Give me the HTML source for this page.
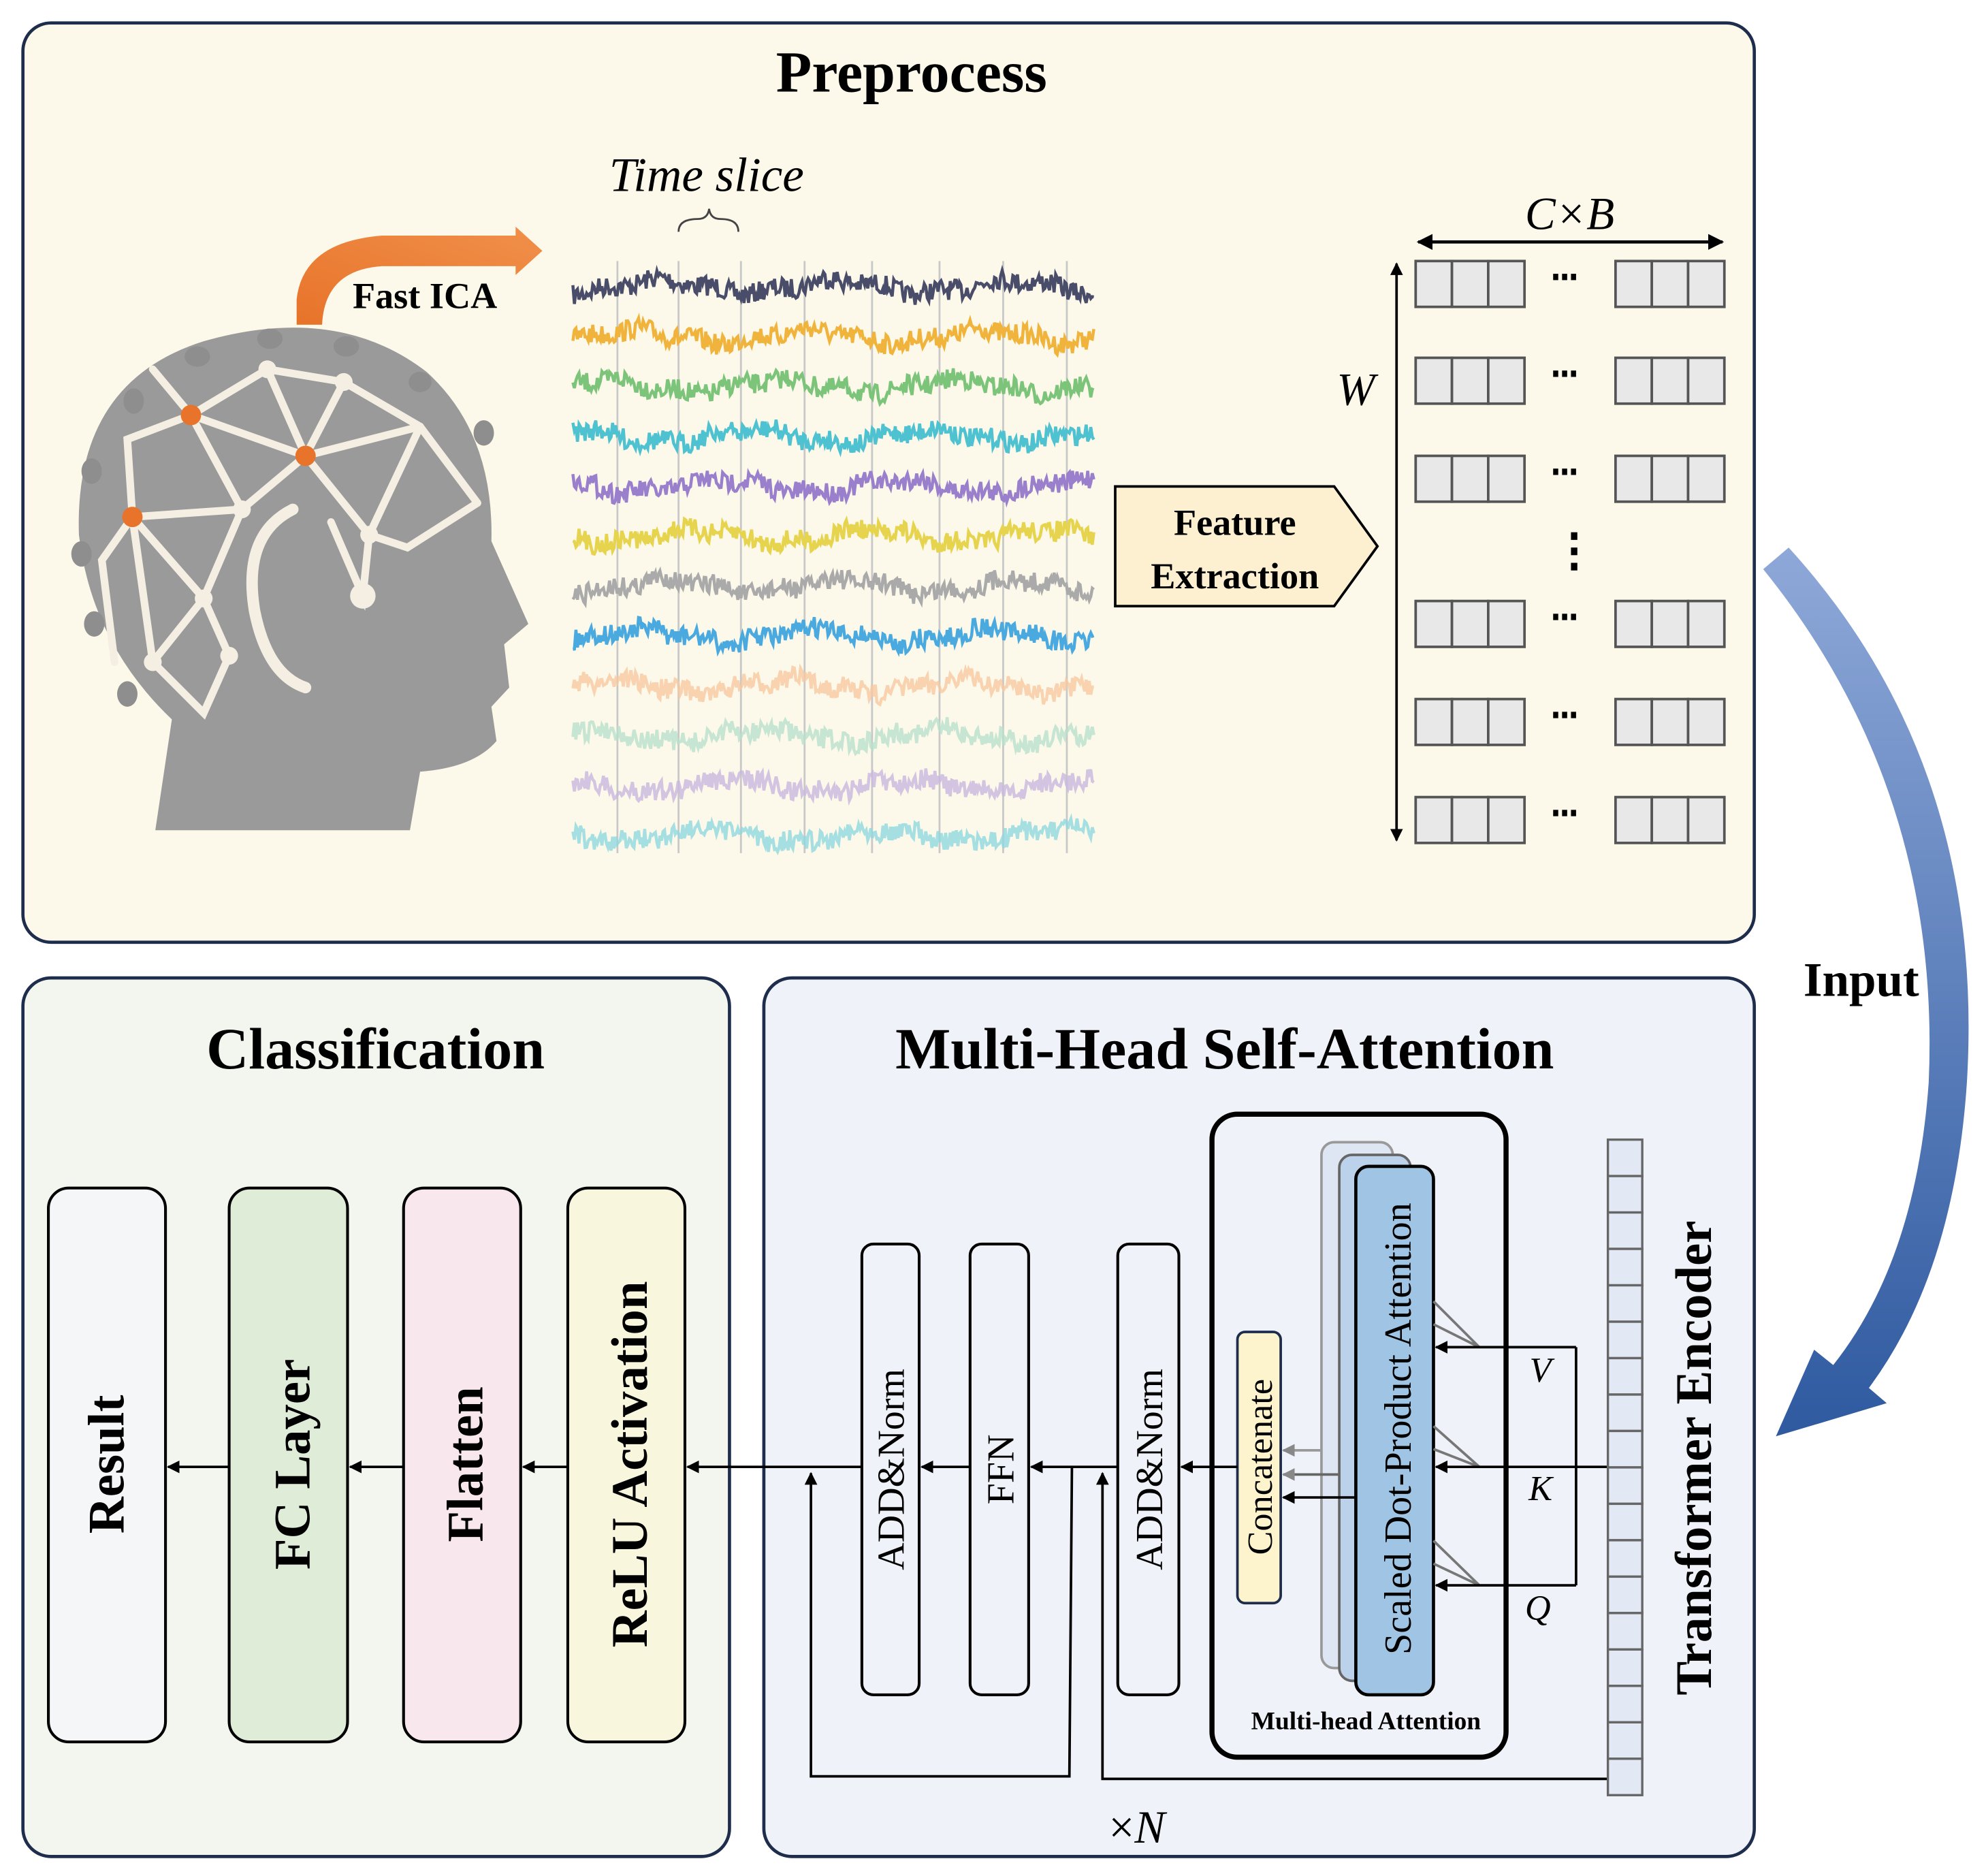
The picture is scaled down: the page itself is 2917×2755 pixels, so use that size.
<!DOCTYPE html>
<html><head><meta charset="utf-8"><style>
html,body{margin:0;padding:0;background:#fff}
svg{display:block}
text{font-family:"Liberation Serif",serif}
.b{font-weight:bold}
</style></head><body>
<svg id="s" width="2917" height="2755" viewBox="0 0 1560 1473.3" preserveAspectRatio="none" xmlns="http://www.w3.org/2000/svg">
<defs>
<marker id="ah" viewBox="0 0 10 10" refX="9" refY="5" markerWidth="5" markerHeight="5" orient="auto-start-reverse"><path d="M0,0 L10,5 L0,10 Z" fill="#000"/></marker>
<marker id="ahg" viewBox="0 0 10 10" refX="9" refY="5" markerWidth="5" markerHeight="5" orient="auto"><path d="M0,0 L10,5 L0,10 Z" fill="#888"/></marker>
<linearGradient id="bg" x1="0" y1="0" x2="0" y2="1"><stop offset="0" stop-color="#8ea8d8"/><stop offset="1" stop-color="#2f5aa0"/></linearGradient>
<linearGradient id="og" x1="0" y1="1" x2="1" y2="0"><stop offset="0" stop-color="#e8732a"/><stop offset="1" stop-color="#f0904a"/></linearGradient>
</defs>
<rect x="18" y="18" width="1360" height="722" rx="22" fill="#fdf9ea" stroke="#1f2d4d" stroke-width="2.5"/>
<rect x="18" y="768" width="555" height="690" rx="22" fill="#f3f6ee" stroke="#1f2d4d" stroke-width="2.5"/>
<rect x="600" y="768" width="778" height="690" rx="22" fill="#eff2f8" stroke="#1f2d4d" stroke-width="2.5"/>
<text x="716" y="72" font-size="46" class="b" text-anchor="middle">Preprocess</text>
<text x="295" y="839" font-size="46" class="b" text-anchor="middle">Classification</text>
<text x="962" y="839" font-size="46" class="b" text-anchor="middle">Multi-Head Self-Attention</text>

<path d="M122,652 L135,565 Q72,505 62,420 Q58,300 160,268 Q265,238 335,292 Q388,340 386,425 L415,490 L396,506 L400,540 L386,555 L390,582 Q372,603 330,606 L322,652 Z" fill="#9a9a9a"/>
<g stroke="#f4efe2" stroke-width="6" fill="none" stroke-linecap="round">
<path d="M90,520 L80,440 L104,406 L100,345 L150,326 L210,290 L270,300 L330,335 L375,395"/>
<path d="M150,326 L240,358 L330,335 M240,358 L270,300 M240,358 L210,290 M150,326 L190,400 L240,358 L290,420 L330,335 M190,400 L104,406 M190,400 L160,470 L104,406 M160,470 L120,520 L160,560 L180,515 L160,470 M290,420 L320,430 L375,395 M290,420 L285,468 L260,410 M104,406 L120,520 M150,326 L120,290"/>
<path d="M230,400 Q190,420 200,480 Q210,530 240,540" stroke-width="9"/>
</g>
<g fill="#f4efe2"><circle cx="240" cy="358" r="7"/><circle cx="190" cy="400" r="7"/><circle cx="290" cy="420" r="7"/><circle cx="160" cy="470" r="7"/><circle cx="120" cy="520" r="7"/><circle cx="210" cy="290" r="7"/><circle cx="270" cy="300" r="7"/><circle cx="285" cy="468" r="10"/><circle cx="180" cy="515" r="7"/></g>
<g fill="#8e8e8e"><ellipse cx="155" cy="280" rx="10" ry="8"/><ellipse cx="212" cy="266" rx="10" ry="8"/><ellipse cx="272" cy="272" rx="10" ry="8"/><ellipse cx="330" cy="300" rx="9" ry="8"/><ellipse cx="380" cy="340" rx="8" ry="10"/><ellipse cx="105" cy="315" rx="8" ry="10"/><ellipse cx="72" cy="370" rx="8" ry="10"/><ellipse cx="64" cy="435" rx="8" ry="10"/><ellipse cx="74" cy="490" rx="8" ry="10"/><ellipse cx="100" cy="545" rx="8" ry="10"/></g>
<g fill="#e8732a"><circle cx="150" cy="326" r="8"/><circle cx="240" cy="358" r="8"/><circle cx="104" cy="406" r="8"/></g>
<path d="M233,255 L233,235 Q238,190 300,185 L405,185 L405,178 L426,197 L405,216 L405,209 L300,209 Q255,212 253,255 Z" fill="url(#og)"/>
<text x="277" y="242" font-size="29" class="b">Fast ICA</text>
<text x="555" y="150" font-size="38" font-style="italic" text-anchor="middle">Time slice</text>
<path d="M533,182 Q533,172 548,172 Q556,172 557,164 Q558,172 566,172 Q580,172 580,182" fill="none" stroke="#444" stroke-width="1.5"/>
<g stroke="#c8c8c8" stroke-width="1.5"><line x1="485" y1="205" x2="485" y2="670"/><line x1="533" y1="205" x2="533" y2="670"/><line x1="582" y1="205" x2="582" y2="670"/><line x1="632" y1="205" x2="632" y2="670"/><line x1="685" y1="205" x2="685" y2="670"/><line x1="738" y1="205" x2="738" y2="670"/><line x1="788" y1="205" x2="788" y2="670"/><line x1="838" y1="205" x2="838" y2="670"/></g>
<g id="eeg"></g>
<path d="M876,382 L1048,382 L1082,429 L1048,476 L876,476 Z" fill="#fdf0d0" stroke="#000" stroke-width="2"/>
<text x="970" y="420" font-size="29" class="b" text-anchor="middle">Feature</text>
<text x="970" y="462" font-size="29" class="b" text-anchor="middle">Extraction</text>
<g id="mat" fill="#e8e8e8" stroke="#555" stroke-width="2"></g>
<line x1="1114" y1="190" x2="1353" y2="190" stroke="#000" stroke-width="2.5" marker-start="url(#ah)" marker-end="url(#ah)"/>
<line x1="1097" y1="207" x2="1097" y2="660" stroke="#000" stroke-width="2" marker-start="url(#ah)" marker-end="url(#ah)"/>
<text x="1233" y="180" font-size="36" font-style="italic" text-anchor="middle">C×B</text>
<text x="1065" y="318" font-size="36" font-style="italic" text-anchor="middle">W</text>
<g fill="#000"><rect x="1234" y="418" width="5" height="6"/><rect x="1234" y="430" width="5" height="6"/><rect x="1234" y="442" width="5" height="6"/></g>
<path d="M1385,447 L1405,430 Q1560,600 1545,850 Q1535,1000 1468,1090 L1482,1102 L1395,1128 L1425,1060 L1440,1072 Q1505,990 1515,850 Q1525,620 1385,447 Z" fill="url(#bg)"/>
<text x="1462" y="782" font-size="38" class="b" text-anchor="middle">Input</text>

<g stroke="#000" stroke-width="2.2">
<rect x="38" y="933" width="92" height="435" rx="16" fill="#f5f6f8"/>
<rect x="180" y="933" width="93" height="435" rx="16" fill="#dfecd8"/>
<rect x="317" y="933" width="92" height="435" rx="16" fill="#f8e8ee"/>
<rect x="446" y="933" width="92" height="435" rx="16" fill="#f8f6dc"/>
</g>
<g font-size="40" class="b" text-anchor="middle">
<text transform="translate(97,1150) rotate(-90)">Result</text>
<text transform="translate(243,1150) rotate(-90)">FC Layer</text>
<text transform="translate(379,1150) rotate(-90)">Flatten</text>
<text transform="translate(508,1150) rotate(-90)">ReLU Activation</text>
</g>
<g stroke="#000" stroke-width="2" marker-end="url(#ah)">
<line x1="180" y1="1152" x2="132" y2="1152"/>
<line x1="317" y1="1152" x2="275" y2="1152"/>
<line x1="446" y1="1152" x2="411" y2="1152"/>
<line x1="677" y1="1152" x2="540" y2="1152"/>
</g>

<g stroke="#000" stroke-width="2.2" fill="#eff2f8">
<rect x="677" y="977" width="45" height="354" rx="9"/>
<rect x="762" y="977" width="46" height="354" rx="9"/>
<rect x="878" y="977" width="48" height="354" rx="9"/>
</g>
<g font-size="30" text-anchor="middle">
<text transform="translate(710,1154) rotate(-90)">ADD&amp;Norm</text>
<text transform="translate(796,1154) rotate(-90)">FFN</text>
<text transform="translate(913,1154) rotate(-90)">ADD&amp;Norm</text>
</g>
<rect x="952" y="875" width="231" height="505" rx="20" fill="none" stroke="#000" stroke-width="4"/>
<rect x="1038" y="897" width="56" height="413" rx="10" fill="#dde6f2" stroke="#999" stroke-width="2"/>
<rect x="1052" y="907" width="56" height="413" rx="10" fill="#bcd2ea" stroke="#666" stroke-width="2"/>
<rect x="1065" y="916" width="61" height="415" rx="10" fill="#a0c4e4" stroke="#000" stroke-width="2.5"/>
<text transform="translate(1108,1122) rotate(-90)" font-size="30" text-anchor="middle">Scaled Dot-Product Attention</text>
<rect x="972" y="1046" width="34" height="213" rx="6" fill="#fdf3cc" stroke="#1f2d4d" stroke-width="2"/>
<text transform="translate(999,1152) rotate(-90)" font-size="28" text-anchor="middle">Concatenate</text>
<text x="1073" y="1358" font-size="20" class="b" text-anchor="middle">Multi-head Attention</text>
<line x1="1038" y1="1139" x2="1008" y2="1139" stroke="#999" stroke-width="2" marker-end="url(#ahg)"/>
<line x1="1052" y1="1158" x2="1008" y2="1158" stroke="#666" stroke-width="2" marker-end="url(#ahg)"/>
<line x1="1065" y1="1176" x2="1008" y2="1176" stroke="#000" stroke-width="2" marker-end="url(#ah)"/>
<g stroke="#777" stroke-width="2"><path d="M1126,1022 L1162,1058 M1126,1040 L1162,1058 M1126,1120 L1162,1152 M1126,1138 L1162,1152 M1126,1210 L1162,1245 M1126,1228 L1162,1245"/></g>
<g stroke="#000" stroke-width="2" fill="none">
<path d="M1238,1058 L1238,1245"/>
<line x1="1238" y1="1058" x2="1128" y2="1058" marker-end="url(#ah)"/>
<line x1="1238" y1="1245" x2="1128" y2="1245" marker-end="url(#ah)"/>
<line x1="1263" y1="1152" x2="1128" y2="1152" marker-end="url(#ah)"/>
<line x1="972" y1="1152" x2="928" y2="1152" marker-end="url(#ah)"/>
<line x1="878" y1="1152" x2="810" y2="1152" marker-end="url(#ah)"/>
<line x1="762" y1="1152" x2="724" y2="1152" marker-end="url(#ah)"/>
<path d="M1263,1397 L866,1397 L866,1157" marker-end="url(#ah)"/>
<path d="M842,1152 L840,1395 L637,1395 L637,1157" marker-end="url(#ah)"/>
</g>
<g font-size="28" font-style="italic" text-anchor="middle"><text x="1210" y="1085">V</text><text x="1210" y="1178">K</text><text x="1208" y="1272">Q</text></g>
<g id="strip" fill="#e2e8f4" stroke="#666" stroke-width="1.8"></g>
<text transform="translate(1344,1145) rotate(-90)" font-size="40" class="b" text-anchor="middle">Transformer Encoder</text>
<text x="893" y="1447" font-size="36" text-anchor="middle"><tspan>×</tspan><tspan font-style="italic">N</tspan></text>
</svg>
<script>
(function(){
var NS="http://www.w3.org/2000/svg";
function el(t,a,p){var e=document.createElementNS(NS,t);for(var k in a)e.setAttribute(k,a[k]);p.appendChild(e);return e;}
var seed=7;function r(){seed=(seed*16807)%2147483647;return seed/2147483647;}
var cols=["#4a4d6a","#f0b43c","#7cc47a","#4ec2d0","#9a7fcc","#e6d44e","#aaaaaa","#4aaae0","#f8c8a0","#b8e0cc","#c8b8e0","#90d8e0"];
var g=document.getElementById("eeg");
for(var i=0;i<12;i++){var y0=225+i*39.2;var d="";for(var x=450;x<=860;x+=1.2){var y=y0+Math.sin(x/22+i)*5+Math.sin(x/7+i*2)*2+(r()-0.5)*16;d+=(x==450?"M":"L")+x.toFixed(1)+","+y.toFixed(1);}
el("path",{d:d,fill:"none",stroke:cols[i],"stroke-width":"2.4",opacity:i>7?0.8:1},g);}
var m=document.getElementById("mat");var rows=[205,281,358,472,549,626];
rows.forEach(function(y){[1112,1269].forEach(function(x){for(var c=0;c<3;c++)el("rect",{x:x+c*28.5,y:y,width:28.5,height:36},m);});
for(var k=0;k<3;k++)el("rect",{x:1220+k*7,y:y+10,width:4,height:5,fill:"#000",stroke:"none"},m);});
var s=document.getElementById("strip");for(var j=0;j<18;j++)el("rect",{x:1263,y:895+j*28.6,width:27,height:28.6},s);
})();
</script>
</body></html>
